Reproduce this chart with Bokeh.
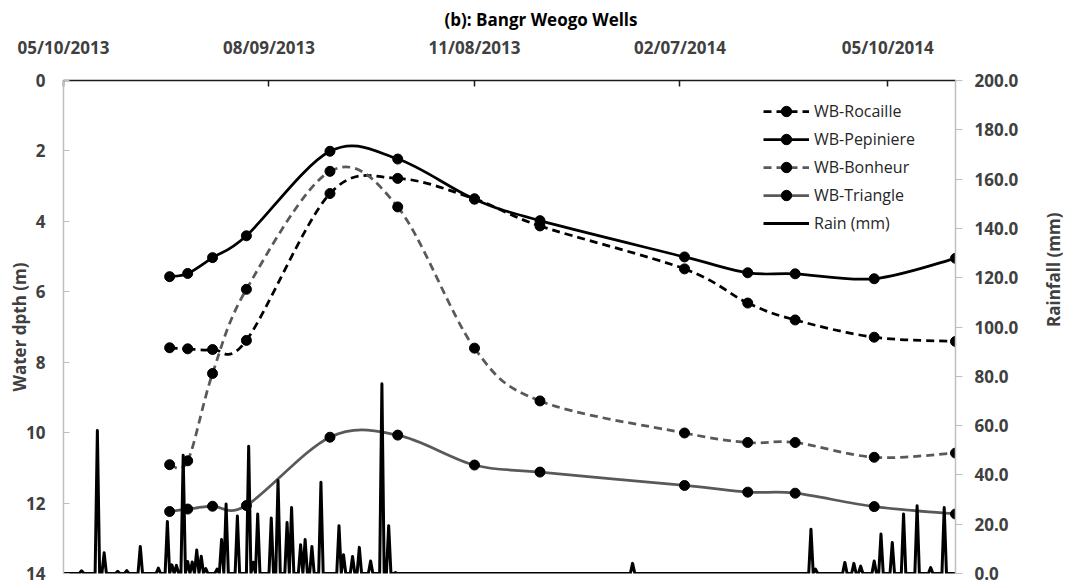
import numpy as np
import pandas as pd
from bokeh.plotting import figure
from bokeh.models import (Range1d, LinearAxis, FixedTicker, DatetimeTickFormatter,
                          PrintfTickFormatter, Legend, LegendItem)
from bokeh.embed import file_html
from bokeh.resources import INLINE

# ---- data -------------------------------------------------------------
survey_dates = ["2013-06-26", "2013-07-04", "2013-07-15", "2013-07-30", "2013-09-05",
                "2013-10-05", "2013-11-08", "2013-12-07", "2014-02-09", "2014-03-09",
                "2014-03-30", "2014-05-04", "2014-06-09"]

wb_rocaille = [7.59, 7.62, 7.64, 7.38, 3.21, 2.78, 3.36, 4.13, 5.35, 6.32, 6.80, 7.29, 7.41]
wb_pepiniere = [5.57, 5.48, 5.03, 4.41, 2.01, 2.23, 3.37, 3.98, 5.01, 5.46, 5.49, 5.63, 5.05]
wb_bonheur = [10.91, 10.80, 8.32, 5.93, 2.58, 3.59, 7.60, 9.10, 10.01, 10.28, 10.28, 10.70, 10.58]
wb_triangle = [12.24, 12.17, 12.09, 12.07, 10.13, 10.07, 10.92, 11.12, 11.50, 11.69, 11.72, 12.10, 12.31]

# rain days (all other days of the record are dry)
rain_dates = ["2013-05-18", "2013-05-25", "2013-05-28", "2013-06-03", "2013-06-07",
              "2013-06-13", "2013-06-21", "2013-06-25", "2013-06-27", "2013-06-29",
              "2013-07-02", "2013-07-04", "2013-07-06", "2013-07-08", "2013-07-10",
              "2013-07-12", "2013-07-17", "2013-07-19", "2013-07-21", "2013-07-26",
              "2013-07-31", "2013-08-02", "2013-08-04", "2013-08-10", "2013-08-13",
              "2013-08-17", "2013-08-19", "2013-08-23", "2013-08-25", "2013-08-28",
              "2013-09-01", "2013-09-09", "2013-09-11", "2013-09-15", "2013-09-18",
              "2013-09-23", "2013-09-28", "2013-10-01", "2013-10-04", "2014-01-17",
              "2014-04-06", "2014-04-08", "2014-04-21", "2014-04-25", "2014-04-28",
              "2014-05-04", "2014-05-07", "2014-05-12", "2014-05-17", "2014-05-23",
              "2014-05-29", "2014-06-04"]
rain_mm = [1.1, 58.0, 8.4, 0.9, 1.2,
           11.0, 2.2, 21.1, 3.5, 3.3,
           48.0, 4.9, 4.7, 9.5, 7.0,
           2.0, 1.8, 13.8, 28.2, 23.3,
           51.6, 4.6, 24.1, 22.5, 37.7,
           20.7, 26.8, 11.7, 13.8, 11.0,
           37.0, 19.4, 7.6, 6.9, 10.6,
           5.1, 77.0, 19.4, 0.4, 4.1,
           18.0, 1.8, 4.5, 4.1, 3.0,
           5.1, 16.0, 12.6, 24.1, 27.5,
           2.4, 26.8]
record_start = "2013-05-10"

axis_dates = ["2013-05-10", "2013-08-09", "2013-11-08", "2014-02-07", "2014-05-10"]
depth_ticks = [0, 2, 4, 6, 8, 10, 12, 14]
rain_ticks = [0, 20, 40, 60, 80, 100, 120, 140, 160, 180, 200]


def to_ms(dates):
    return np.array(dates, dtype="datetime64[ms]").astype("int64").astype(float)


def smooth_segments(x, y):
    """Cubic Bezier pieces (Catmull-Rom style) through the given points."""
    x = np.asarray(x, float)
    y = np.asarray(y, float)
    n = len(x)
    xp = np.concatenate([[x[0]], x, [x[-1]]])
    yp = np.concatenate([[y[0]], y, [y[-1]]])
    return dict(
        x0=xp[1:n], y0=yp[1:n],
        x1=xp[2:n + 1], y1=yp[2:n + 1],
        cx0=xp[1:n] + (xp[2:n + 1] - xp[0:n - 1]) / 6.0,
        cy0=yp[1:n] + (yp[2:n + 1] - yp[0:n - 1]) / 6.0,
        cx1=xp[2:n + 1] - (xp[3:n + 2] - xp[1:n]) / 6.0,
        cy1=yp[2:n + 1] - (yp[3:n + 2] - yp[1:n]) / 6.0,
    )


sx = to_ms(survey_dates)

# daily rainfall series over the whole record
days = pd.date_range(record_start, survey_dates[-1], freq="D")
daily = pd.Series(0.0, index=days)
daily.loc[pd.to_datetime(rain_dates)] = rain_mm
rain_x = to_ms(days.strftime("%Y-%m-%d").tolist())
rain_y = daily.values

# ---- figure -----------------------------------------------------------
FONT = "Open Sans"
TXT = "#404040"

p = figure(width=1083, height=585, output_backend="svg", toolbar_location=None,
           x_axis_type="datetime", x_axis_location="above",
           x_range=Range1d(to_ms([record_start])[0], sx[-1]),
           y_range=Range1d(14, 0),
           min_border_left=63, min_border_right=128, min_border_top=80, min_border_bottom=12)
p.extra_y_ranges = {"rain": Range1d(0, 200)}
p.outline_line_color = None
p.xgrid.grid_line_color = None
p.ygrid.grid_line_color = None
p.background_fill_color = "white"
p.border_fill_color = "white"

p.title.text = "(b): Bangr Weogo Wells"
p.title.align = "left"
p.title.offset = 381
p.title.standoff = 4
p.title.text_font = FONT
p.title.text_font_style = "bold"
p.title.text_font_size = "17px"
p.title.text_color = "black"

# top date axis
xa = p.xaxis[0]
xa.ticker = FixedTicker(ticks=list(to_ms(axis_dates)))
fmt = "%m/%d/%Y"
xa.formatter = DatetimeTickFormatter(milliseconds=fmt, seconds=fmt, minsec=fmt, minutes=fmt,
                                     hourmin=fmt, hours=fmt, days=fmt, months=fmt, years=fmt)
xa.axis_line_color = "#1a1a1a"
xa.axis_line_width = 1.5
xa.major_tick_line_color = "#1a1a1a"
xa.major_tick_line_width = 1.5
xa.major_tick_in = 6
xa.major_tick_out = 0
xa.minor_tick_line_color = None
xa.major_label_standoff = 22
xa.major_label_text_font = FONT
xa.major_label_text_font_style = "bold"
xa.major_label_text_font_size = "17px"
xa.major_label_text_color = TXT

# left depth axis
ya = p.yaxis[0]
ya.ticker = FixedTicker(ticks=depth_ticks)
ya.axis_line_color = "#BFBFBF"
ya.axis_line_width = 1.5
ya.major_tick_line_color = "#BFBFBF"
ya.major_tick_in = 6
ya.major_tick_out = 0
ya.minor_tick_line_color = None
ya.major_label_standoff = 18
ya.major_label_text_font = FONT
ya.major_label_text_font_style = "bold"
ya.major_label_text_font_size = "17px"
ya.major_label_text_color = TXT
ya.axis_label = "Water dpth (m)"
ya.axis_label_standoff = -8
ya.axis_label_text_font = FONT
ya.axis_label_text_font_style = "bold"
ya.axis_label_text_font_size = "17px"
ya.axis_label_text_color = TXT

# right rainfall axis
ra = LinearAxis(y_range_name="rain", ticker=FixedTicker(ticks=rain_ticks),
                formatter=PrintfTickFormatter(format="%.1f"))
ra.axis_line_color = "#BFBFBF"
ra.axis_line_width = 1.5
ra.major_tick_line_color = "#BFBFBF"
ra.major_tick_in = 0
ra.major_tick_out = 7
ra.minor_tick_line_color = None
ra.major_label_standoff = 12
ra.major_label_text_font = FONT
ra.major_label_text_font_style = "bold"
ra.major_label_text_font_size = "17px"
ra.major_label_text_color = TXT
ra.axis_label = "Rainfall (mm)"
ra.axis_label_orientation = np.pi / 2
ra.axis_label_standoff = 32
ra.axis_label_text_font = FONT
ra.axis_label_text_font_style = "bold"
ra.axis_label_text_font_size = "17px"
ra.axis_label_text_color = TXT
p.add_layout(ra, "right")

# ---- wells ------------------------------------------------------------
wells = [
    ("WB-Rocaille", wb_rocaille, "black", "8 5"),
    ("WB-Pepiniere", wb_pepiniere, "black", "solid"),
    ("WB-Bonheur", wb_bonheur, "#595959", "8 5"),
    ("WB-Triangle", wb_triangle, "#595959", "solid"),
]
items = []
for name, depth, color, dash in wells:
    curve = p.bezier(line_color=color, line_width=2.75, line_dash=dash,
                     **smooth_segments(sx, depth))
    dots = p.scatter(sx, depth, marker="circle", size=10,
                     fill_color="black", line_color="black")
    items.append(LegendItem(label=name, renderers=[curve, dots]))

# ---- rainfall ---------------------------------------------------------
rain = p.line(rain_x, rain_y, y_range_name="rain", line_color="black",
              line_width=3, line_join="round")
items.append(LegendItem(label="Rain (mm)", renderers=[rain]))

legend = Legend(items=items, location=(700, 337), orientation="vertical",
                glyph_width=46, glyph_height=26, label_height=26, spacing=2,
                padding=0, margin=0, label_standoff=5,
                border_line_alpha=0, background_fill_alpha=0,
                label_text_font=FONT, label_text_font_size="16px",
                label_text_color="#262626")
p.add_layout(legend)

open("out.html", "w").write(file_html(p, INLINE))
